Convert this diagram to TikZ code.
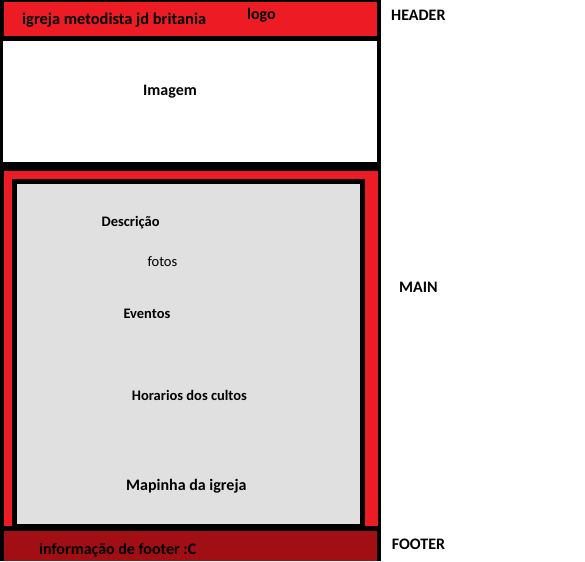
\documentclass[tikz,border=0pt]{standalone}
\usepackage{fontspec}
\setmainfont{Carlito}
\usepackage{tikz}
\definecolor{paintred}{RGB}{237,28,36}
\definecolor{footred}{RGB}{161,14,20}
\definecolor{panelgray}{RGB}{224,224,224}
\begin{document}
\begin{tikzpicture}[x=1pt, y=-1pt,
  lbl/.style={anchor=base west, inner sep=0pt, font=\fontsize{14.5}{16}\selectfont\bfseries},
  biglbl/.style={lbl, font=\fontsize{16}{18}\selectfont\bfseries}]
\useasboundingbox (0,0) rectangle (585,561);
\fill[white] (0,0) rectangle (585,561);
\fill[black] (0,0) rectangle (381,561);
\fill[paintred] (4,2) rectangle (377,36);
\fill[white] (3,41) rectangle (377,162);
\fill[paintred] (4,171) rectangle (378,526);
\fill[black] (12,179) rectangle (365,531);
\fill[panelgray] (17,184) rectangle (360,524);
\fill[footred] (4,531) rectangle (377,561);
\node[lbl, font=\fontsize{16.4}{18}\selectfont\bfseries] (title) at (22,25) {igreja metodista jd britania};
\node[biglbl] (logo) at (247,19.5) {logo};
\node[biglbl] (imagem) at (143,95.5) {Imagem};
\node[lbl] (descricao) at (101.5,226.7) {Descrição};
\node[lbl, font=\fontsize{14.5}{16}\selectfont] (fotos) at (147.3,266.7) {fotos};
\node[lbl] (eventos) at (123.3,318.3) {Eventos};
\node[lbl] (horarios) at (131.7,400.7) {Horarios dos cultos};
\node[biglbl] (mapinha) at (126,490) {Mapinha da igreja};
\node[biglbl] (footinfo) at (39,554) {informação de footer :C};
\node[biglbl] (header) at (391,20.7) {HEADER};
\node[biglbl] (main) at (399,292.3) {MAIN};
\node[biglbl] (footer) at (391.7,549) {FOOTER};
\end{tikzpicture}
\end{document}
